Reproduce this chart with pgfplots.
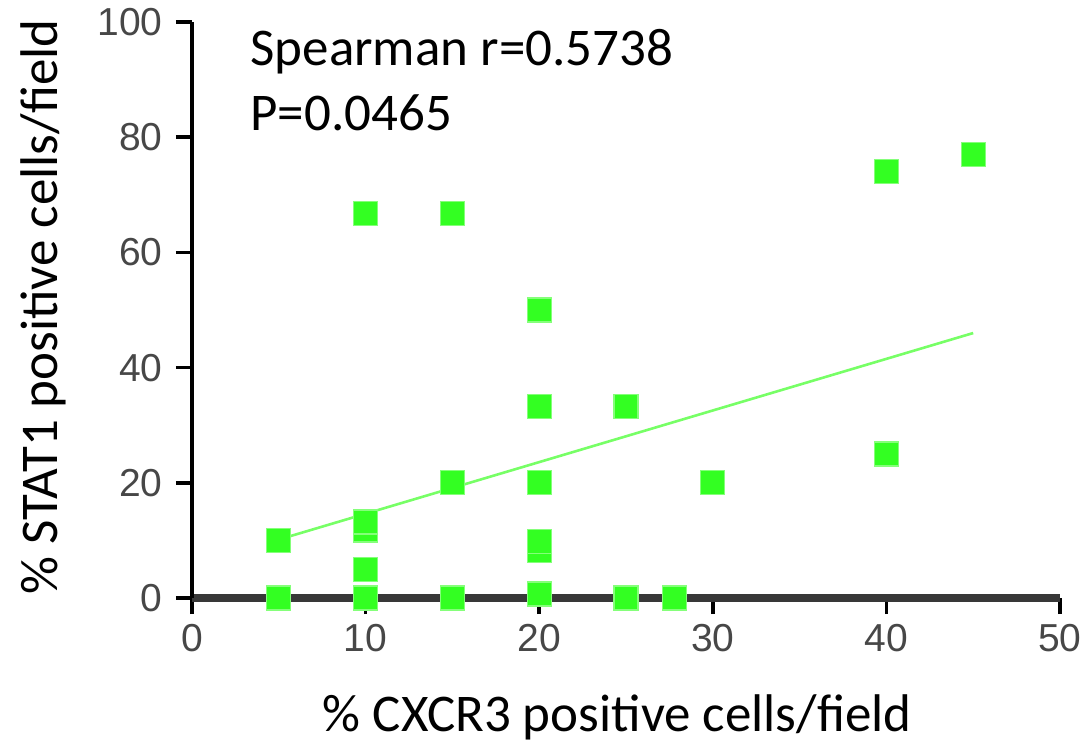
\documentclass[border=0pt]{standalone}
\usepackage{pgfplots}
\pgfplotsset{compat=1.18}
\usepackage{fontspec}
\setmainfont{Carlito}
\newfontfamily\tickfont{Liberation Sans}
\definecolor{mk}{HTML}{33FF22}
\definecolor{fitc}{HTML}{77FF66}
\begin{document}
\begin{tikzpicture}
\begin{axis}[
  set layers,
  at={(0,0)}, anchor=south west,
  width=434pt, height=288pt, scale only axis,
  xmin=0, xmax=50, ymin=0, ymax=100,
  axis x line=bottom, axis y line=left,
  axis line style={-},
  clip=false,
  xtick={0,10,...,50}, ytick={0,20,...,100},
  tick align=outside,
  major tick length=8pt,
  x axis line style={draw=black!78, line width=3.6pt},
  y axis line style={draw=black, line width=2pt},
  every tick/.style={black, line width=1.8pt},
  /pgf/number format/assume math mode=true,
  tick label style={font=\tickfont\fontsize{19.5}{22}\selectfont, text=black!72, inner sep=2pt},
  xticklabel style={yshift=-3pt},
  yticklabel style={xshift=-4.5pt},
  xlabel={\% CXCR3 positive cells/field},
  ylabel={\% STAT1 positive cells/field},
  xlabel style={font=\fontsize{26.5}{32}\selectfont, at={(rel axis cs:0.49,0)}, anchor=base, yshift=-66.5pt},
  ylabel style={font=\fontsize{26.5}{32}\selectfont, at={(rel axis cs:0,0.505)}, anchor=base, rotate=0, yshift=67pt},
]
\addplot[fitc, line width=1.3pt] coordinates {(5,10.15) (45,46.0)};
\addplot[only marks, mark=square*, mark size=6pt, mark options={fill=mk, draw=mk!60, line width=0.6pt}] coordinates {
(5,0) (5,10) (10,0) (10,5) (10,11.8) (10,13.2) (10,66.7)
(15,0) (15,20) (15,66.7)
(20,0.7) (20,8.3) (20,9.8) (20,20) (20,33.3) (20,50)
(25,0) (25,33.3) (27.8,0) (30,20)
(40,25) (40,74) (45,77)
};
\node[anchor=base west, font=\fontsize{26.5}{32}\selectfont, inner sep=0pt] at (rel axis cs:0.067,0.924) {Spearman r=0.5738};
\node[anchor=base west, font=\fontsize{26.5}{32}\selectfont, inner sep=0pt] at (rel axis cs:0.067,0.811) {P=0.0465};
\end{axis}
\pgfresetboundingbox
\path[use as bounding box] (-96pt,-74pt) rectangle (448pt,299pt);
\end{tikzpicture}
\end{document}
